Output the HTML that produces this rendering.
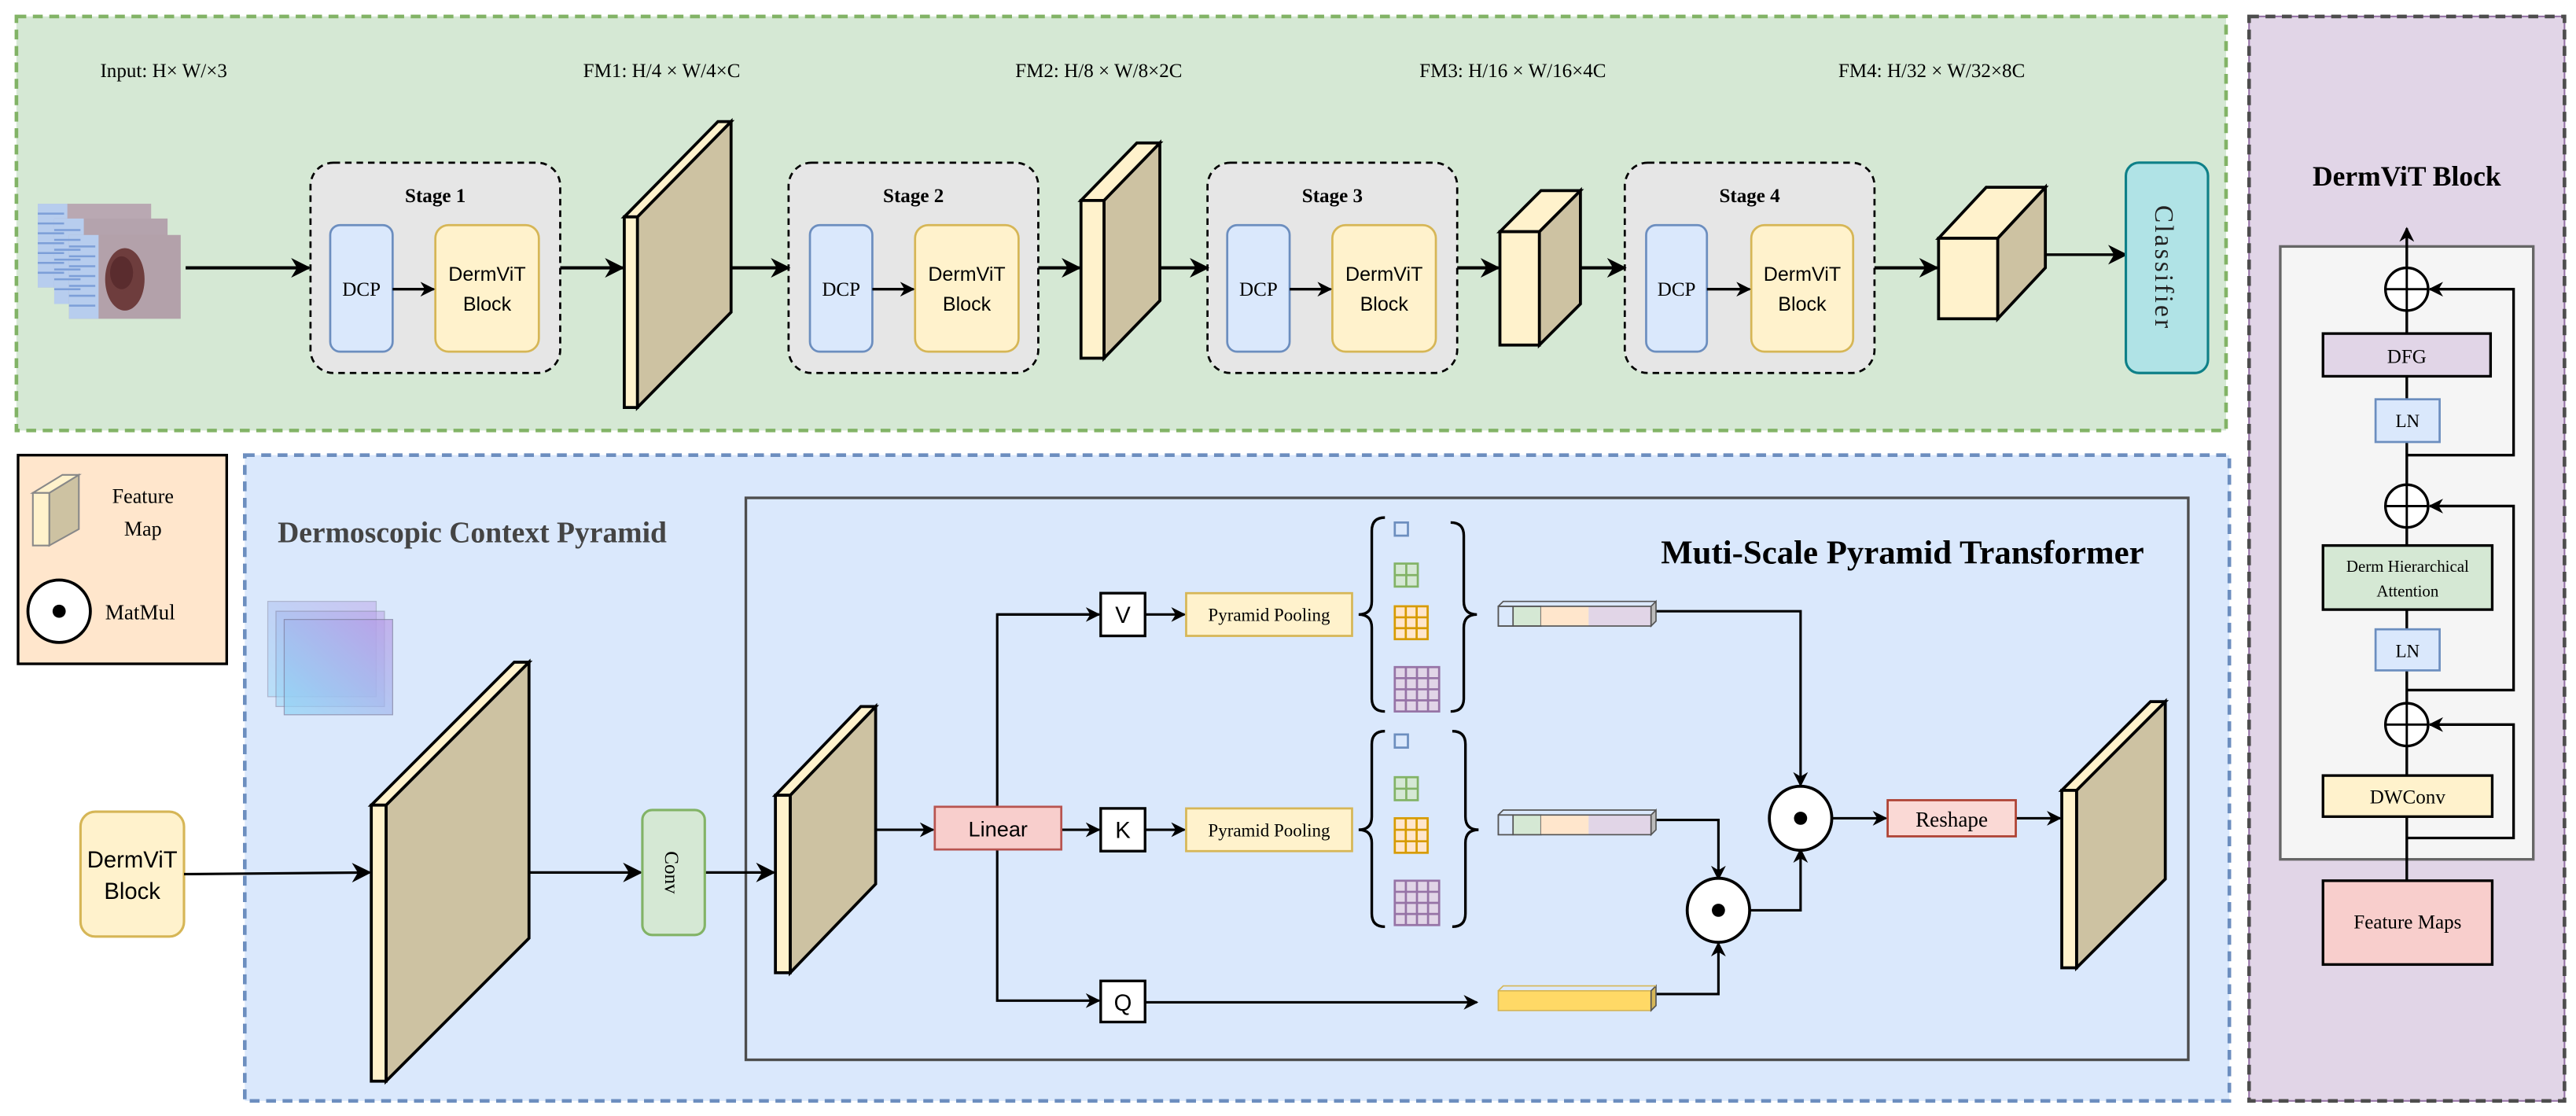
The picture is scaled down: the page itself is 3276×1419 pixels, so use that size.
<!DOCTYPE html>
<html><head><meta charset="utf-8"><style>html,body{margin:0;padding:0;background:#fff}svg{display:block}</style></head>
<body>
<svg width="3276" height="1419" viewBox="0 0 1568 679.2" preserveAspectRatio="none" xmlns="http://www.w3.org/2000/svg" font-family="'Liberation Serif',serif">
<defs>
<marker id="a" viewBox="0 0 10 10" refX="9" refY="5" markerWidth="9" markerHeight="9" markerUnits="userSpaceOnUse" orient="auto"><path d="M0,0 L10,5 L0,10 L3,5 Z" fill="#000"/></marker>
<marker id="b" viewBox="0 0 10 10" refX="9" refY="5" markerWidth="12" markerHeight="12" markerUnits="userSpaceOnUse" orient="auto"><path d="M0,0 L10,5 L0,10 L3,5 Z" fill="#000"/></marker>
<linearGradient id="g" x1="0" y1="1" x2="1" y2="0"><stop offset="0" stop-color="#8fd6f6"/><stop offset="1" stop-color="#b99be6"/></linearGradient>
</defs>
<!-- panels -->
<rect x="10" y="10" width="1345" height="252" fill="#d5e8d4" stroke="#82b366" stroke-width="2.2" stroke-dasharray="6,4"/>
<rect x="1369" y="10" width="192" height="660" fill="#e1d5e7" stroke="#9673a6" stroke-width="1"/>
<rect x="1369" y="10" width="192" height="660" fill="none" stroke="#4d4d4d" stroke-width="2.2" stroke-dasharray="6,4"/>
<rect x="11" y="277" width="127" height="127" fill="#ffe6cc" stroke="#000" stroke-width="1.6"/>
<rect x="149" y="277" width="1208" height="393" fill="#dae8fc" stroke="#6c8ebf" stroke-width="2.2" stroke-dasharray="6,4"/>
<rect x="454" y="303" width="878" height="342" fill="none" stroke="#4d4d4d" stroke-width="1.6"/>

<!-- top labels -->
<g font-size="12" fill="#000">
<text x="61" y="47">Input: H× W/×3</text>
<text x="355" y="47">FM1: H/4 × W/4×C</text>
<text x="618" y="47">FM2: H/8 × W/8×2C</text>
<text x="864" y="47">FM3: H/16 × W/16×4C</text>
<text x="1119" y="47">FM4: H/32 × W/32×8C</text>
</g>

<!-- input images -->
<g>
<rect x="23" y="124" width="69" height="51" fill="#b9a8b2"/><rect x="23" y="124" width="18" height="51" fill="#b7cdee"/>
<rect x="33" y="133" width="69" height="52" fill="#b4a3ad"/><rect x="33" y="133" width="18" height="52" fill="#b7cdee"/>
<rect x="42" y="143" width="68" height="51" fill="#b3a1aa"/><rect x="42" y="143" width="18" height="51" fill="#b7cdee"/>
<g stroke="#7d9fd8" stroke-width="1.2">
<path d="M23,130h16M23,136h16M23,142h16M23,148h16M23,154h16M23,160h16M23,166h16M33,140h16M33,146h16M33,152h16M33,158h16M33,164h16M33,170h16M33,176h16M42,150h16M42,156h16M42,162h16M42,168h16M42,174h16M42,180h16M42,186h16"/>
</g>
<ellipse cx="76" cy="170" rx="12" ry="19" fill="#6e3d3d"/>
<ellipse cx="74" cy="166" rx="7" ry="10" fill="#5a2c2e"/>
</g>
<line x1="113" y1="163" x2="188" y2="163" stroke="#000" stroke-width="2" marker-end="url(#b)"/>

<!-- stages -->
<g font-size="12">
<g>
<rect x="189" y="99" width="152" height="128" rx="14" fill="#e6e6e6" stroke="#000" stroke-width="1.3" stroke-dasharray="4,3"/>
<text x="265" y="123" text-anchor="middle" font-weight="bold">Stage 1</text>
<rect x="201" y="137" width="38" height="77" rx="6" fill="#dae8fc" stroke="#6c8ebf" stroke-width="1.3"/>
<text x="220" y="180" text-anchor="middle">DCP</text>
<rect x="265" y="137" width="63" height="77" rx="8" fill="#fff2cc" stroke="#d6b656" stroke-width="1.3"/>
<text x="296.5" y="171" text-anchor="middle" font-family="'Liberation Sans',sans-serif" font-size="12">DermViT</text>
<text x="296.5" y="189" text-anchor="middle" font-family="'Liberation Sans',sans-serif" font-size="12">Block</text>
<line x1="239" y1="176" x2="264" y2="176" stroke="#000" stroke-width="1.6" marker-end="url(#a)"/>
</g>
<g>
<rect x="480" y="99" width="152" height="128" rx="14" fill="#e6e6e6" stroke="#000" stroke-width="1.3" stroke-dasharray="4,3"/>
<text x="556" y="123" text-anchor="middle" font-weight="bold">Stage 2</text>
<rect x="493" y="137" width="38" height="77" rx="6" fill="#dae8fc" stroke="#6c8ebf" stroke-width="1.3"/>
<text x="512" y="180" text-anchor="middle">DCP</text>
<rect x="557" y="137" width="63" height="77" rx="8" fill="#fff2cc" stroke="#d6b656" stroke-width="1.3"/>
<text x="588.5" y="171" text-anchor="middle" font-family="'Liberation Sans',sans-serif">DermViT</text>
<text x="588.5" y="189" text-anchor="middle" font-family="'Liberation Sans',sans-serif">Block</text>
<line x1="531" y1="176" x2="556" y2="176" stroke="#000" stroke-width="1.6" marker-end="url(#a)"/>
</g>
<g>
<rect x="735" y="99" width="152" height="128" rx="14" fill="#e6e6e6" stroke="#000" stroke-width="1.3" stroke-dasharray="4,3"/>
<text x="811" y="123" text-anchor="middle" font-weight="bold">Stage 3</text>
<rect x="747" y="137" width="38" height="77" rx="6" fill="#dae8fc" stroke="#6c8ebf" stroke-width="1.3"/>
<text x="766" y="180" text-anchor="middle">DCP</text>
<rect x="811" y="137" width="63" height="77" rx="8" fill="#fff2cc" stroke="#d6b656" stroke-width="1.3"/>
<text x="842.5" y="171" text-anchor="middle" font-family="'Liberation Sans',sans-serif">DermViT</text>
<text x="842.5" y="189" text-anchor="middle" font-family="'Liberation Sans',sans-serif">Block</text>
<line x1="785" y1="176" x2="810" y2="176" stroke="#000" stroke-width="1.6" marker-end="url(#a)"/>
</g>
<g>
<rect x="989" y="99" width="152" height="128" rx="14" fill="#e6e6e6" stroke="#000" stroke-width="1.3" stroke-dasharray="4,3"/>
<text x="1065" y="123" text-anchor="middle" font-weight="bold">Stage 4</text>
<rect x="1002" y="137" width="37" height="77" rx="6" fill="#dae8fc" stroke="#6c8ebf" stroke-width="1.3"/>
<text x="1020.5" y="180" text-anchor="middle">DCP</text>
<rect x="1066" y="137" width="62" height="77" rx="8" fill="#fff2cc" stroke="#d6b656" stroke-width="1.3"/>
<text x="1097" y="171" text-anchor="middle" font-family="'Liberation Sans',sans-serif">DermViT</text>
<text x="1097" y="189" text-anchor="middle" font-family="'Liberation Sans',sans-serif">Block</text>
<line x1="1039" y1="176" x2="1065" y2="176" stroke="#000" stroke-width="1.6" marker-end="url(#a)"/>
</g>
</g>

<!-- slabs -->
<g stroke="#000" stroke-width="1.8" stroke-linejoin="miter">
<polygon points="388,132 445,74 445,190 388,248" fill="#cdc2a2"/><polygon points="380,132 388,132 445,74 437,74" fill="#fff2cc"/><rect x="380" y="132" width="8" height="116" fill="#fff2cc"/>
<polygon points="672,122 706,87 706,183 672,218" fill="#cdc2a2"/><polygon points="658,122 672,122 706,87 692,87" fill="#fff2cc"/><rect x="658" y="122" width="14" height="96" fill="#fff2cc"/>
<polygon points="937,141 962,116 962,185 937,210" fill="#cdc2a2"/><polygon points="913,141 937,141 962,116 938,116" fill="#fff2cc"/><rect x="913" y="141" width="24" height="69" fill="#fff2cc"/>
<polygon points="1216,145 1245,114 1245,163 1216,194" fill="#cdc2a2"/><polygon points="1180,145 1216,145 1245,114 1209,114" fill="#fff2cc"/><rect x="1180" y="145" width="36" height="49" fill="#fff2cc"/>
<polygon points="235,490 322,403 322,571 235,658" fill="#cdc2a2"/><polygon points="226,490 235,490 322,403 313,403" fill="#fff2cc"/><rect x="226" y="490" width="9" height="168" fill="#fff2cc"/>
<polygon points="481,484 533,430 533,538 481,592" fill="#cdc2a2"/><polygon points="472,484 481,484 533,430 524,430" fill="#fff2cc"/><rect x="472" y="484" width="9" height="108" fill="#fff2cc"/>
<polygon points="1264,481 1318,427 1318,535 1264,589" fill="#cdc2a2"/><polygon points="1255,481 1264,481 1318,427 1309,427" fill="#fff2cc"/><rect x="1255" y="481" width="9" height="108" fill="#fff2cc"/>
</g>
<g stroke="#000" stroke-width="2" fill="none">
<line x1="341" y1="163" x2="379" y2="163" marker-end="url(#b)"/>
<line x1="445" y1="163" x2="480" y2="163" marker-end="url(#b)"/>
<line x1="632" y1="163" x2="657" y2="163" marker-end="url(#b)"/>
<line x1="706" y1="163" x2="735" y2="163" marker-end="url(#b)"/>
<line x1="887" y1="163" x2="912" y2="163" marker-end="url(#b)"/>
<line x1="962" y1="163" x2="989" y2="163" marker-end="url(#b)"/>
<line x1="1141" y1="163" x2="1179" y2="163" marker-end="url(#b)"/>
<line x1="1245" y1="155" x2="1294" y2="155" stroke-width="1.6" marker-end="url(#b)"/>
</g>
<rect x="1294" y="99" width="50" height="128" rx="8" fill="#b0e3e6" stroke="#0e8088" stroke-width="1.5"/>
<text transform="translate(1312,163) rotate(90)" text-anchor="middle" font-size="16" letter-spacing="1.5" fill="#222">Classifier</text>

<!-- legend -->
<polygon points="30,300 48,289 48,322 30,332" fill="#cdc2a2" stroke="#888" stroke-width="1"/>
<polygon points="20,300 30,300 48,289 38,289" fill="#fff2cc" stroke="#888" stroke-width="1"/>
<rect x="20" y="300" width="10" height="32" fill="#fff2cc" stroke="#888" stroke-width="1"/>
<text x="87" y="306" font-size="12.5" text-anchor="middle">Feature</text>
<text x="87" y="326" font-size="12.5" text-anchor="middle">Map</text>
<ellipse cx="36" cy="372" rx="19" ry="19" fill="#fff" stroke="#000" stroke-width="1.8"/><circle cx="36" cy="372" r="4" fill="#000"/>
<text x="64" y="377" font-size="13">MatMul</text>

<!-- DCP section -->
<text x="169" y="330" font-size="18" font-weight="bold" fill="#444">Dermoscopic Context Pyramid</text>
<rect x="163" y="366" width="66" height="58" fill="url(#g)" opacity="0.45" stroke="#7a7a9a" stroke-width="0.6"/>
<rect x="168" y="372" width="66" height="58" fill="url(#g)" opacity="0.5" stroke="#7a7a9a" stroke-width="0.6"/>
<rect x="173" y="377" width="66" height="58" fill="url(#g)" opacity="0.7" stroke="#7a7a9a" stroke-width="0.6"/>
<rect x="49" y="494" width="63" height="76" rx="9" fill="#fff2cc" stroke="#d6b656" stroke-width="1.5"/>
<text x="80.5" y="528" text-anchor="middle" font-family="'Liberation Sans',sans-serif" font-size="14">DermViT</text>
<text x="80.5" y="547" text-anchor="middle" font-family="'Liberation Sans',sans-serif" font-size="14">Block</text>
<g stroke="#000" stroke-width="1.5" fill="none">
<line x1="112" y1="532" x2="225" y2="531" marker-end="url(#b)"/>
<line x1="322" y1="531" x2="390" y2="531" marker-end="url(#b)"/>
<line x1="429" y1="531" x2="471" y2="531" marker-end="url(#b)"/>
</g>
<rect x="391" y="493" width="38" height="76" rx="6" fill="#d5e8d4" stroke="#82b366" stroke-width="1.5"/>
<text transform="translate(405,531) rotate(90)" text-anchor="middle" font-size="12">Conv</text>

<!-- MSPT -->
<text x="1011" y="343" font-size="20.5" font-weight="bold">Muti-Scale  Pyramid Transformer</text>
<g stroke="#000" stroke-width="1.5" fill="none">
<line x1="533" y1="505" x2="568" y2="505" marker-end="url(#a)"/>
<line x1="646" y1="505" x2="669" y2="505" marker-end="url(#a)"/>
<polyline points="669,374 607,374 607,609 669,609" marker-end="url(#a)"/>
<line x1="607" y1="374" x2="669" y2="374" marker-end="url(#a)"/>
<line x1="697" y1="374" x2="721" y2="374" marker-end="url(#a)"/>
<line x1="697" y1="505" x2="721" y2="505" marker-end="url(#a)"/>
<line x1="697" y1="610" x2="899" y2="610" marker-end="url(#a)"/>
<polyline points="1007,372 1096,372 1096,478" marker-end="url(#a)"/>
<polyline points="1007,499 1046,499 1046,535" marker-end="url(#a)"/>
<polyline points="1007,605 1046,605 1046,574" marker-end="url(#a)"/>
<polyline points="1065,554 1096,554 1096,517" marker-end="url(#a)"/>
<line x1="1115" y1="498" x2="1148" y2="498" marker-end="url(#a)"/>
<line x1="1227" y1="498" x2="1254" y2="498" marker-end="url(#a)"/>
</g>
<rect x="569" y="491" width="77" height="26" fill="#f8cecc" stroke="#b85450" stroke-width="1.3"/>
<text x="607.5" y="509" text-anchor="middle" font-family="'Liberation Sans',sans-serif" font-size="13">Linear</text>
<g fill="#fff" stroke="#000" stroke-width="1.6">
<rect x="670" y="361" width="27" height="26"/><rect x="670" y="492" width="27" height="26"/><rect x="670" y="597" width="27" height="25"/>
</g>
<g font-family="'Liberation Sans',sans-serif" font-size="14" text-anchor="middle">
<text x="683.5" y="379">V</text><text x="683.5" y="510">K</text><text x="683.5" y="615">Q</text>
</g>
<rect x="722" y="361" width="101" height="26" fill="#fff2cc" stroke="#d6b656" stroke-width="1.3"/>
<rect x="722" y="492" width="101" height="26" fill="#fff2cc" stroke="#d6b656" stroke-width="1.3"/>
<text x="772.5" y="378" text-anchor="middle" font-size="11">Pyramid Pooling</text>
<text x="772.5" y="509" text-anchor="middle" font-size="11">Pyramid Pooling</text>
<!-- braces -->
<g fill="none" stroke="#000" stroke-width="1.6">
<path d="M843,315 q-8,0 -8,8 v43 q0,8 -8,8 q8,0 8,8 v43 q0,8 8,8"/>
<path d="M883,318 q8,0 8,8 v40 q0,8 8,8 q-8,0 -8,8 v43 q0,8 -8,8"/>
<path d="M843,445 q-8,0 -8,8 v44 q0,8 -8,8 q8,0 8,8 v43 q0,8 8,8"/>
<path d="M884,445 q8,0 8,8 v44 q0,8 8,8 q-8,0 -8,8 v43 q0,8 -8,8"/>
</g>
<!-- grids -->
<g stroke-width="1.3">
<rect x="849" y="318" width="8" height="8" fill="#dae8fc" stroke="#6c8ebf"/>
<rect x="849" y="343" width="14" height="14" fill="#d5e8d4" stroke="#82b366"/><path d="M856,343v14M849,350h14" stroke="#82b366"/>
<rect x="849" y="369" width="20" height="20" fill="#ffe6cc" stroke="#d79b00"/><path d="M855.7,369v20M862.3,369v20M849,375.7h20M849,382.3h20" stroke="#d79b00"/>
<rect x="849" y="406" width="27" height="27" fill="#e1d5e7" stroke="#9673a6"/><path d="M855.75,406v27M862.5,406v27M869.25,406v27M849,412.75h27M849,419.5h27M849,426.25h27" stroke="#9673a6"/>
<rect x="849" y="447" width="8" height="8" fill="#dae8fc" stroke="#6c8ebf"/>
<rect x="849" y="473" width="14" height="14" fill="#d5e8d4" stroke="#82b366"/><path d="M856,473v14M849,480h14" stroke="#82b366"/>
<rect x="849" y="498" width="20" height="21" fill="#ffe6cc" stroke="#d79b00"/><path d="M855.7,498v21M862.3,498v21M849,505h20M849,512h20" stroke="#d79b00"/>
<rect x="849" y="536" width="27" height="27" fill="#e1d5e7" stroke="#9673a6"/><path d="M855.75,536v27M862.5,536v27M869.25,536v27M849,542.75h27M849,549.5h27M849,556.25h27" stroke="#9673a6"/>
</g>
<!-- token bars -->
<g stroke="#555" stroke-width="0.8">
<rect x="912" y="369" width="9" height="12" fill="#dae8fc"/><rect x="921" y="369" width="17" height="12" fill="#d5e8d4"/><rect x="938" y="369" width="29" height="12" fill="#ffe6cc" stroke="none"/><rect x="967" y="369" width="38" height="12" fill="#e1d5e7" stroke="none"/><rect x="912" y="369" width="93" height="12" fill="none"/><polygon points="1005,369 1008,366 1008,378 1005,381" fill="#bbb"/><path d="M912,369l3,-3h93" fill="none"/>
<rect x="912" y="496" width="9" height="12" fill="#dae8fc"/><rect x="921" y="496" width="17" height="12" fill="#d5e8d4"/><rect x="938" y="496" width="29" height="12" fill="#ffe6cc" stroke="none"/><rect x="967" y="496" width="38" height="12" fill="#e1d5e7" stroke="none"/><rect x="912" y="496" width="93" height="12" fill="none"/><polygon points="1005,496 1008,493 1008,505 1005,508" fill="#bbb"/><path d="M912,496l3,-3h93" fill="none"/>
<rect x="912" y="603" width="93" height="12" fill="#ffd966" stroke="#d6b656"/><polygon points="1005,603 1008,600 1008,612 1005,615" fill="#d6b656"/><path d="M912,603l3,-3h93" fill="none" stroke="#d6b656"/>
</g>
<g fill="#fff" stroke="#000" stroke-width="1.8">
<ellipse cx="1096" cy="498" rx="19" ry="19.5"/><ellipse cx="1046" cy="554" rx="19" ry="19.5"/>
</g>
<circle cx="1096" cy="498" r="4" fill="#000"/><circle cx="1046" cy="554" r="4" fill="#000"/>
<rect x="1149" y="487" width="78" height="22" fill="#fad9d5" stroke="#ae4132" stroke-width="1.3"/>
<text x="1188" y="503" text-anchor="middle" font-size="13">Reshape</text>

<!-- DermViT block panel -->
<text x="1465" y="113" text-anchor="middle" font-size="17" font-weight="bold">DermViT Block</text>
<rect x="1388" y="150" width="154" height="373" fill="#f5f5f5" stroke="#666" stroke-width="1.6"/>
<g stroke="#000" stroke-width="1.6" fill="none">
<line x1="1465" y1="536" x2="1465" y2="139" marker-end="url(#a)"/>
<polyline points="1465,510 1530,510 1530,441 1479,441" marker-end="url(#a)"/>
<polyline points="1465,420 1530,420 1530,308 1479,308" marker-end="url(#a)"/>
<polyline points="1465,277 1530,277 1530,176 1479,176" marker-end="url(#a)"/>
</g>
<g fill="#fff" stroke="#000" stroke-width="1.6">
<ellipse cx="1465" cy="441" rx="13" ry="13"/><ellipse cx="1465" cy="308" rx="13" ry="13"/><ellipse cx="1465" cy="176" rx="13" ry="13"/>
</g>
<g stroke="#000" stroke-width="1.4"><path d="M1452,441h26M1465,428v26M1452,308h26M1465,295v26M1452,176h26M1465,163v26"/></g>
<rect x="1414" y="203" width="102" height="26" fill="#e1d5e7" stroke="#000" stroke-width="1.6"/>
<text x="1465" y="221" text-anchor="middle" font-size="12">DFG</text>
<rect x="1446" y="243" width="39" height="26" fill="#dae8fc" stroke="#6c8ebf" stroke-width="1.3"/>
<text x="1465.5" y="260" text-anchor="middle" font-size="11">LN</text>
<rect x="1414" y="332" width="103" height="39" fill="#d5e8d4" stroke="#000" stroke-width="1.6"/>
<text x="1465.5" y="348" text-anchor="middle" font-size="10">Derm Hierarchical</text>
<text x="1465.5" y="363" text-anchor="middle" font-size="10">Attention</text>
<rect x="1446" y="383" width="39" height="25" fill="#dae8fc" stroke="#6c8ebf" stroke-width="1.3"/>
<text x="1465.5" y="400" text-anchor="middle" font-size="11">LN</text>
<rect x="1414" y="472" width="103" height="25" fill="#fff2cc" stroke="#000" stroke-width="1.6"/>
<text x="1465.5" y="489" text-anchor="middle" font-size="12">DWConv</text>
<rect x="1414" y="536" width="103" height="51" fill="#f8cecc" stroke="#000" stroke-width="1.6"/>
<text x="1465.5" y="565" text-anchor="middle" font-size="12">Feature Maps</text>
</svg>
</body></html>
